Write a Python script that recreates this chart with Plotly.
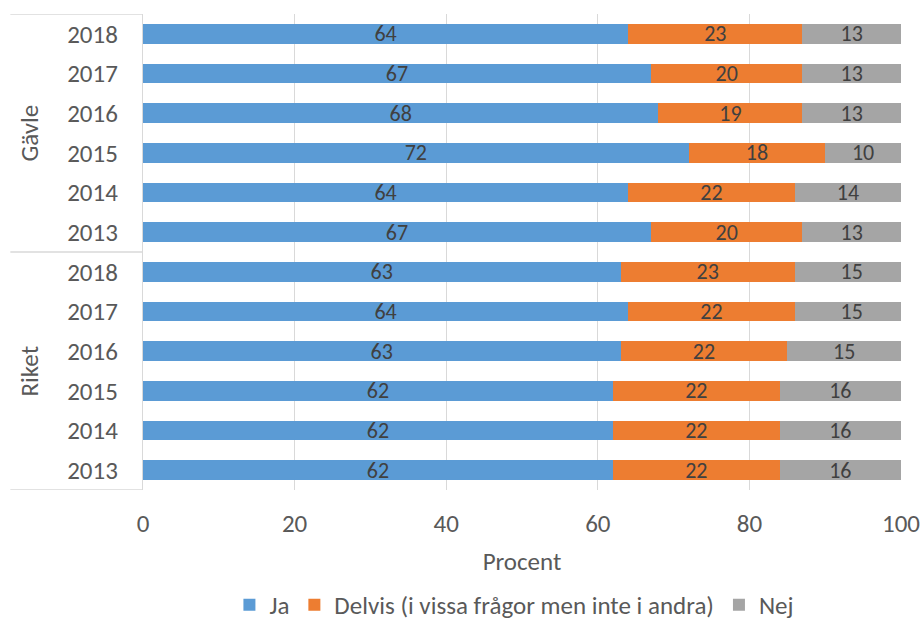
import plotly.graph_objects as go

groups = ["Riket"] * 6 + ["Gävle"] * 6
years = ["2013", "2014", "2015", "2016", "2017", "2018"] * 2
ja = [62, 62, 62, 63, 64, 63, 67, 64, 72, 68, 67, 64]
delvis = [22, 22, 22, 22, 22, 23, 20, 22, 18, 19, 20, 23]
nej = [16, 16, 16, 15, 15, 15, 13, 14, 10, 13, 13, 13]
group_names = ["Riket", "Gävle"]
x_ticks = [0, 20, 40, 60, 80, 100]

series = [
    ("Ja", ja, "#5B9BD5"),
    ("Delvis (i vissa frågor men inte i andra)", delvis, "#ED7D31"),
    ("Nej", nej, "#A5A5A5"),
]

FONT = "Carlito, Calibri, Lato, sans-serif"
TXT = "#595959"
ypos = list(range(len(years)))

fig = go.Figure()
for name, vals, col in series:
    fig.add_trace(go.Bar(
        y=ypos, x=vals, orientation="h", name=name,
        marker=dict(color=col, line=dict(width=0)),
        width=0.5,
        text=[str(v) for v in vals], textposition="inside", textangle=0,
        insidetextanchor="middle", constraintext="none",
        textfont=dict(color="#404040", size=22, family=FONT),
    ))

shapes = []
for yb in [-0.5, 5.5, 11.5]:
    shapes.append(dict(type="line", xref="paper", yref="y", x0=-0.175, x1=0,
                       y0=yb, y1=yb, line=dict(color="#d9d9d9", width=1.3)))

annotations = []
for i, g in enumerate(group_names):
    annotations.append(dict(text=g, xref="paper", yref="y", x=-0.151, y=i * 6 + 2.5,
                            xanchor="center", yanchor="middle",
                            textangle=-90, showarrow=False,
                            font=dict(family=FONT, size=25, color=TXT)))

fig.update_layout(
    barmode="stack",
    width=922, height=623,
    margin=dict(l=143, r=21, t=14, b=133, autoexpand=False),
    paper_bgcolor="white", plot_bgcolor="white",
    font=dict(family=FONT, size=25, color=TXT),
    uniformtext=dict(minsize=22, mode="show"),
    shapes=shapes, annotations=annotations,
    showlegend=True,
    legend=dict(orientation="h", xanchor="center", x=0.49, yanchor="middle",
                yref="container", y=0.029,
                font=dict(family=FONT, size=25, color=TXT),
                traceorder="normal", itemwidth=30),
)
fig.update_xaxes(range=[0, 100], tickvals=x_ticks, showgrid=True, gridcolor="#d9d9d9",
                 gridwidth=1.3, zeroline=False, showline=False, automargin=False,
                 ticklabelstandoff=16, tickfont=dict(family=FONT, size=25, color=TXT),
                 title=dict(text="Procent", font=dict(family=FONT, size=25, color=TXT),
                            standoff=14))
fig.update_yaxes(range=[-0.5, 11.5], tickvals=ypos, ticktext=years, showgrid=False,
                 zeroline=False, showline=True, linecolor="#d9d9d9", linewidth=1.3,
                 automargin=False,
                 ticklabelstandoff=19, tickfont=dict(family=FONT, size=25, color=TXT))

fig.write_html("out.html")
